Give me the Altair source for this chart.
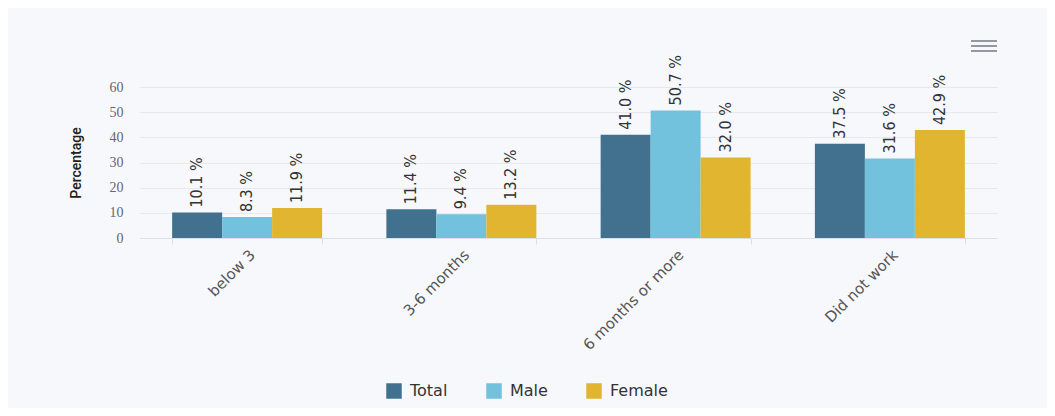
import altair as alt
import pandas as pd

categories = ["below 3", "3-6 months", "6 months or more", "Did not work"]
series = ["Total", "Male", "Female"]
total = [10.1, 11.4, 41.0, 37.5]
male = [8.3, 9.4, 50.7, 31.6]
female = [11.9, 13.2, 32.0, 42.9]
colors = ["#41718f", "#72c2dd", "#e1b52f"]

rows = []
for i, c in enumerate(categories):
    for s, vals in zip(series, [total, male, female]):
        rows.append({"category": c, "series": s, "value": vals[i],
                     "label": f"{vals[i]:.1f} %"})
df = pd.DataFrame(rows)

x_enc = alt.X("category:N", sort=categories, title=None,
              scale=alt.Scale(paddingInner=0.3, paddingOuter=0.15),
              axis=alt.Axis(labelAngle=-45, labelFont="DejaVu Sans", labelFontSize=15,
                            labelColor="#555", domainColor="#dcdfe6", tickColor="#dcdfe6",
                            tickBand="extent", tickSize=6, labelPadding=3, grid=False))
y_enc = alt.Y("value:Q", title="Percentage",
              scale=alt.Scale(domain=[0, 60]),
              axis=alt.Axis(values=[0, 10, 20, 30, 40, 50, 60], labelOverlap=False,
                            labelFont="Liberation Serif",
                            labelFontSize=14, labelColor="#666", titleFont="Roboto",
                            titleFontSize=14, titleFontWeight=500, titleColor="#222",
                            titlePadding=26, domain=False, ticks=False, labelPadding=17,
                            gridColor="#e6e8ee"))
xo = alt.XOffset("series:N", sort=series)

bars = alt.Chart(df).mark_bar().encode(
    x=x_enc, y=y_enc, xOffset=xo,
    color=alt.Color("series:N", sort=series,
                    scale=alt.Scale(domain=series, range=colors),
                    legend=alt.Legend(title=None, orient="none", direction="horizontal",
                                      legendX=246, legendY=296, symbolType="square",
                                      symbolSize=240, symbolStrokeWidth=0,
                                      labelFont="DejaVu Sans", labelFontSize=16,
                                      labelColor="#333", columnPadding=38,
                                      symbolOffset=0, labelOffset=8)),
)

labels = alt.Chart(df).mark_text(angle=270, align="left", baseline="middle", dx=5,
                                 font="DejaVu Sans Condensed", fontSize=16,
                                 color="#333").encode(
    x=x_enc, y=y_enc, xOffset=xo, text="label:N")

icon_layers = [
    alt.Chart(alt.Data(values=[{}])).mark_rule(color="#7a7f88", strokeWidth=1.6).encode(
        x=alt.value(831), x2=alt.value(857), y=alt.value(yy))
    for yy in (-46, -41, -36)
]

chart = alt.layer(bars, labels, *icon_layers).properties(
    width=857, height=151,
    autosize=alt.AutoSizeParams(type="none"),
    padding={"left": 132, "top": 79, "right": 50, "bottom": 170},
    background="#f7f8fc",
).configure_view(stroke=None)

chart.save("out.html", embed_options={"renderer": "svg", "actions": False})
